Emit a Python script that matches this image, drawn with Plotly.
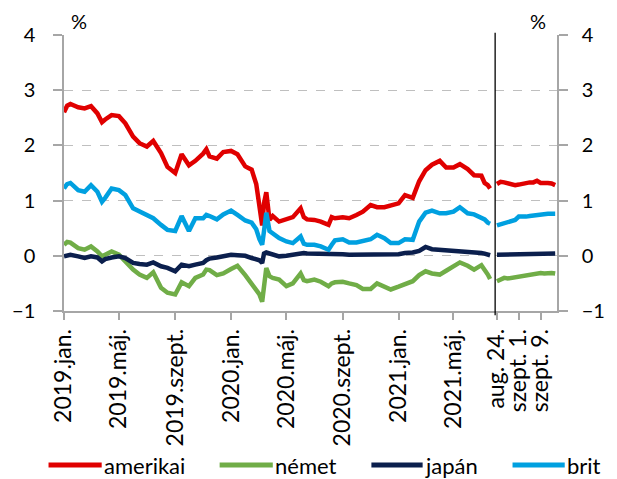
import plotly.graph_objects as go

# ---------------- data ----------------
dates = ["2019-01-01","2019-01-08","2019-01-15","2019-02-01","2019-02-15","2019-03-01","2019-03-15","2019-03-25",
         "2019-04-01","2019-04-15","2019-05-01","2019-05-15","2019-06-01","2019-06-15","2019-07-01","2019-07-15",
         "2019-08-01","2019-08-15","2019-09-01","2019-09-15","2019-10-01","2019-10-15","2019-11-01","2019-11-08",
         "2019-11-15","2019-12-01","2019-12-15","2020-01-01","2020-01-15","2020-02-01","2020-02-15","2020-02-25",
         "2020-03-03","2020-03-09","2020-03-13","2020-03-18","2020-03-25","2020-04-01","2020-04-15","2020-05-01",
         "2020-05-15","2020-06-01","2020-06-08","2020-06-15","2020-07-01","2020-07-15","2020-08-01","2020-08-08",
         "2020-08-15","2020-09-01","2020-09-15","2020-10-01","2020-10-15","2020-11-01","2020-11-15","2020-12-01",
         "2020-12-15","2021-01-01","2021-01-15","2021-02-01","2021-02-15","2021-03-01","2021-03-15","2021-04-01",
         "2021-04-15","2021-05-01","2021-05-15","2021-06-01","2021-06-15","2021-07-01","2021-07-08","2021-07-15",
         "2021-07-20"]

amerikai = [2.60,2.72,2.75,2.69,2.67,2.71,2.58,2.42,2.47,2.55,2.53,2.40,2.16,2.04,1.98,2.08,
            1.86,1.61,1.50,1.84,1.64,1.72,1.85,1.93,1.80,1.76,1.88,1.90,1.84,1.62,1.56,1.30,
            0.90,0.55,0.95,1.15,0.65,0.72,0.62,0.66,0.70,0.86,0.70,0.66,0.65,0.62,0.56,0.70,
            0.68,0.70,0.68,0.74,0.80,0.92,0.88,0.88,0.92,0.95,1.10,1.05,1.35,1.55,1.65,1.72,
            1.60,1.60,1.66,1.57,1.46,1.45,1.32,1.28,1.22]
nemet = [0.20,0.25,0.24,0.14,0.11,0.17,0.08,-0.01,0.02,0.08,0.02,-0.10,-0.25,-0.34,-0.40,-0.30,
         -0.58,-0.67,-0.70,-0.48,-0.55,-0.40,-0.34,-0.25,-0.26,-0.35,-0.32,-0.24,-0.18,-0.35,-0.50,-0.62,
         -0.70,-0.83,-0.50,-0.22,-0.37,-0.40,-0.43,-0.55,-0.50,-0.32,-0.44,-0.46,-0.43,-0.47,-0.55,-0.50,
         -0.48,-0.47,-0.50,-0.53,-0.60,-0.60,-0.50,-0.56,-0.61,-0.56,-0.52,-0.46,-0.35,-0.28,-0.32,-0.34,
         -0.27,-0.20,-0.12,-0.18,-0.25,-0.17,-0.24,-0.34,-0.42]
japan = [-0.01,0.00,0.02,-0.01,-0.04,-0.01,-0.03,-0.10,-0.06,-0.03,-0.01,-0.04,-0.13,-0.15,-0.16,-0.12,
         -0.19,-0.22,-0.28,-0.16,-0.19,-0.16,-0.13,-0.08,-0.05,-0.03,0.00,0.02,0.01,0.00,-0.04,-0.06,
         -0.08,-0.13,0.04,0.06,0.04,0.03,-0.01,0.00,0.02,0.04,0.05,0.04,0.04,0.04,0.05,0.05,
         0.04,0.03,0.02,0.02,0.02,0.02,0.02,0.03,0.02,0.03,0.05,0.06,0.09,0.16,0.12,0.11,
         0.11,0.09,0.09,0.08,0.07,0.05,0.04,0.02,0.01]
brit = [1.22,1.30,1.32,1.19,1.16,1.28,1.16,0.98,1.05,1.22,1.19,1.10,0.86,0.80,0.74,0.68,
        0.56,0.47,0.45,0.72,0.45,0.68,0.68,0.74,0.72,0.66,0.75,0.82,0.74,0.64,0.60,0.48,
        0.30,0.20,0.45,0.78,0.45,0.40,0.32,0.26,0.23,0.35,0.22,0.20,0.20,0.17,0.11,0.20,
        0.28,0.30,0.24,0.24,0.26,0.30,0.38,0.32,0.23,0.23,0.30,0.29,0.62,0.78,0.82,0.77,
        0.77,0.80,0.88,0.77,0.75,0.70,0.66,0.60,0.58]

days = ["aug. 24.","aug. 25.","aug. 26.","aug. 27.","aug. 30.","aug. 31.","szept. 1.","szept. 2.",
        "szept. 3.","szept. 6.","szept. 7.","szept. 8.","szept. 9.","szept. 10.","szept. 13.",
        "szept. 14.","szept. 15."]
amerikai_d = [1.30,1.34,1.33,1.31,1.29,1.28,1.29,1.31,1.32,1.33,1.33,1.36,1.32,1.33,1.32,1.31,1.28]
nemet_d = [-0.46,-0.42,-0.40,-0.41,-0.40,-0.37,-0.36,-0.36,-0.35,-0.35,-0.33,-0.32,-0.31,-0.32,-0.31,-0.31,-0.32]
japan_d = [0.02,0.02,0.02,0.02,0.03,0.03,0.03,0.03,0.03,0.04,0.04,0.04,0.04,0.04,0.04,0.04,0.04]
brit_d = [0.55,0.57,0.60,0.61,0.63,0.65,0.71,0.70,0.71,0.72,0.73,0.74,0.74,0.75,0.76,0.76,0.76]

names = ["amerikai", "német", "japán", "brit"]
colors = ["#E00000", "#70AD47", "#0B1F4D", "#00A0E0"]

month_ticks = ["2019-01-01","2019-05-01","2019-09-01","2020-01-01","2020-05-01","2020-09-01","2021-01-01","2021-05-01"]
month_labels = ["2019.jan.","2019.máj.","2019.szept.","2020.jan.","2020.máj.","2020.szept.","2021.jan.","2021.máj."]
day_ticks = ["aug. 24.", "szept. 1.", "szept. 9."]

# ---------------- figure ----------------
FONT = "Lato"
W, H = 617, 479
ML, MR, MT, MB = 59, 48, 35, 168
split = (505 - ML) / (W - ML - MR)

fig = go.Figure()
long_series = [amerikai, nemet, japan, brit]
short_series = [amerikai_d, nemet_d, japan_d, brit_d]
for nm, col, ys in zip(names, colors, long_series):
    fig.add_trace(go.Scatter(x=dates, y=ys, mode="lines", name=nm, showlegend=False,
                             line=dict(color=col, width=4.5), xaxis="x", yaxis="y"))
for nm, col, ys in zip(names, colors, short_series):
    fig.add_trace(go.Scatter(x=days, y=ys, mode="lines", name=nm, showlegend=False,
                             line=dict(color=col, width=4.5), xaxis="x2", yaxis="y2"))

grid = dict(showgrid=True, gridcolor="#BFBFBF", griddash="dash", gridwidth=1.2)
axline = dict(showline=True, linecolor="#A6A6A6", linewidth=1.5)

fig.update_layout(
    width=W, height=H, margin=dict(l=ML, r=MR, t=MT, b=MB),
    paper_bgcolor="white", plot_bgcolor="white",
    font=dict(family=FONT, color="#000000"),
    xaxis=dict(domain=[0, split], type="date", range=["2019-01-01", "2021-07-31"],
               tickvals=month_ticks, ticktext=month_labels, tickangle=-90,
               ticks="outside", ticklen=7, tickcolor="#A6A6A6", tickwidth=1.5,
               tickfont=dict(size=23, family=FONT), showgrid=False, zeroline=False,
               anchor="y", **axline),
    xaxis2=dict(domain=[split, 1], type="category", range=[-0.5, len(days) - 0.5],
                tickvals=day_ticks, ticktext=day_ticks, tickangle=-90,
                ticks="outside", ticklen=7, tickcolor="#A6A6A6", tickwidth=1.5,
                tickfont=dict(size=23, family=FONT), showgrid=False, zeroline=False,
                anchor="y2", **axline),
    yaxis=dict(range=[-1, 4], dtick=1, tick0=0, anchor="x", side="left",
               ticks="outside", ticklen=9, tickcolor="#A6A6A6", tickwidth=1.5,
               tickfont=dict(size=20, family=FONT), ticklabelstandoff=14,
               zeroline=False, **grid, **axline),
    yaxis2=dict(range=[-1, 4], dtick=1, tick0=0, anchor="x2", side="right",
                ticks="outside", ticklen=9, tickcolor="#A6A6A6", tickwidth=1.5,
                tickfont=dict(size=20, family=FONT), ticklabelstandoff=10,
                zeroline=False, **grid, **axline),
)

# separator line between the two periods
fig.add_shape(type="line", xref="paper", yref="paper", x0=split, x1=split, y0=-0.015, y1=1.008,
              line=dict(color="#000000", width=1.3))

# unit labels
fig.add_annotation(xref="paper", yref="paper", x=(75 - ML) / (W - ML - MR), y=1.0 + (35 - 21) / (H - MT - MB),
                   text="%", showarrow=False, font=dict(size=20, family=FONT), xanchor="center", yanchor="middle")
fig.add_annotation(xref="paper", yref="paper", x=(549 - ML) / (W - ML - MR), y=1.0 + (35 - 21) / (H - MT - MB),
                   text="%", showarrow=False, font=dict(size=20, family=FONT), xanchor="center", yanchor="middle")

# legend drawn below the chart
pw, ph = W - ML - MR, H - MT - MB
leg_y = (H - MB - 465) / ph
leg_x = [(43, 98), (220, 275), (377, 430), (523, 577)]
for (a, b), nm, col in zip(leg_x, names, colors):
    fig.add_shape(type="line", xref="paper", yref="paper", x0=(a - ML) / pw, x1=(b - ML) / pw,
                  y0=leg_y, y1=leg_y, line=dict(color=col, width=5))
    fig.add_annotation(xref="paper", yref="paper", x=(b + 1 - ML) / pw, y=leg_y, text=nm,
                       showarrow=False, xanchor="left", yanchor="middle", borderpad=0,
                       font=dict(size=22, family=FONT))

fig.write_html("out.html")
